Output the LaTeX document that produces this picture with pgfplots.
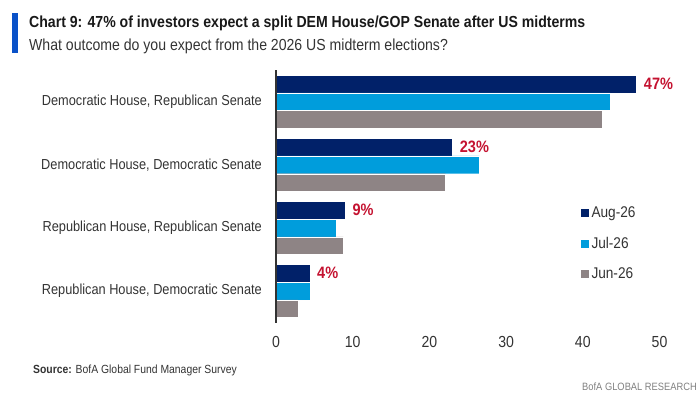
\documentclass[border=0pt]{standalone}
\usepackage{fontspec}
\setmainfont[FakeStretch=0.88]{Liberation Sans}
\usepackage{pgfplots}
\pgfplotsset{compat=1.18}
\definecolor{navy}{HTML}{012169}
\definecolor{cyanb}{HTML}{009DDC}
\definecolor{grayb}{HTML}{8E8485}
\definecolor{redl}{HTML}{C41230}
\definecolor{bofablue}{HTML}{0A52C8}
\definecolor{txt}{HTML}{333333}
\begin{document}
\begin{tikzpicture}
\useasboundingbox (0pt,0pt) rectangle (700pt,400pt);
\fill[bofablue] (12pt,347pt) rectangle (18pt,387pt);
\node[anchor=base west, inner sep=0pt, font=\fontsize{16}{19}\selectfont\bfseries, text=black!90] at (29pt,372.3pt) {Chart 9: 47\% of investors expect a split DEM House/GOP Senate after US midterms};
\node[anchor=base west, inner sep=0pt, font=\fontsize{16}{19}\selectfont, text=txt] at (29pt,349.3pt) {What outcome do you expect from the 2026 US midterm elections?};
\node[anchor=base west, inner sep=0pt, font=\fontsize{11.8}{14}\selectfont, text=txt] at (33pt,27pt) {\textbf{Source:} BofA Global Fund Manager Survey};
\node[anchor=base east, inner sep=0pt, font=\fontsize{10.6}{13}\selectfont, text=black!50] at (697pt,10pt) {BofA GLOBAL RESEARCH};
\begin{axis}[
  at={(276pt,77.45pt)}, anchor=south west,
  scale only axis, width=383.5pt, height=252.4pt,
  xmin=0, xmax=50, ymin=-0.5, ymax=3.5,
  xbar, bar width=17.7pt,
  axis on top,
  axis lines*=left,
  x axis line style={draw=none},
  y axis line style={draw=txt, line width=1.2pt, -},
  major tick length=0pt,
  xtick={0,10,20,30,40,50},
  ytick={0,1,2,3},
  yticklabels={{Republican House, Democratic Senate},{Republican House, Republican Senate},{Democratic House, Democratic Senate},{Democratic House, Republican Senate}},
  /pgf/number format/assume math mode=true,
  xticklabel style={font=\fontsize{16}{19}\selectfont, text=txt, anchor=center, yshift=-19pt},
  yticklabel style={font=\fontsize{14.5}{17}\selectfont, text=txt, anchor=east, inner sep=0pt, xshift=-14pt},
  legend style={draw=none, fill=none, at={(rel axis cs:0.7927,0.467)}, anchor=north west, inner sep=0pt,
    font=\fontsize{15.5}{18}\selectfont, text=txt, row sep=14pt, cells={anchor=west}},
  legend image code/.code={\fill[#1] (0pt,-4.5pt) rectangle (9pt,4.5pt);},
  every axis legend/.append style={/tikz/every even column/.append style={column sep=1.5pt}},
]
\addplot[fill=navy, draw=white, line width=0.3pt, bar shift=17.7pt,
  nodes near coords, point meta=explicit symbolic,
  every node near coord/.append style={anchor=west, xshift=4pt, text=redl, font=\fontsize{16.5}{19}\selectfont\bfseries}]
  coordinates {(4.4,0)[4\%] (9,1)[9\%] (23,2)[23\%] (47,3)[47\%]};
\addplot[fill=cyanb, draw=white, line width=0.3pt, bar shift=0pt]
  coordinates {(4.5,0) (7.8,1) (26.5,2) (43.6,3)};
\addplot[fill=grayb, draw=white, line width=0.3pt, bar shift=-17.7pt]
  coordinates {(2.9,0) (8.8,1) (22.1,2) (42.5,3)};
\legend{Aug-26,Jul-26,Jun-26}
\end{axis}
\end{tikzpicture}
\end{document}
